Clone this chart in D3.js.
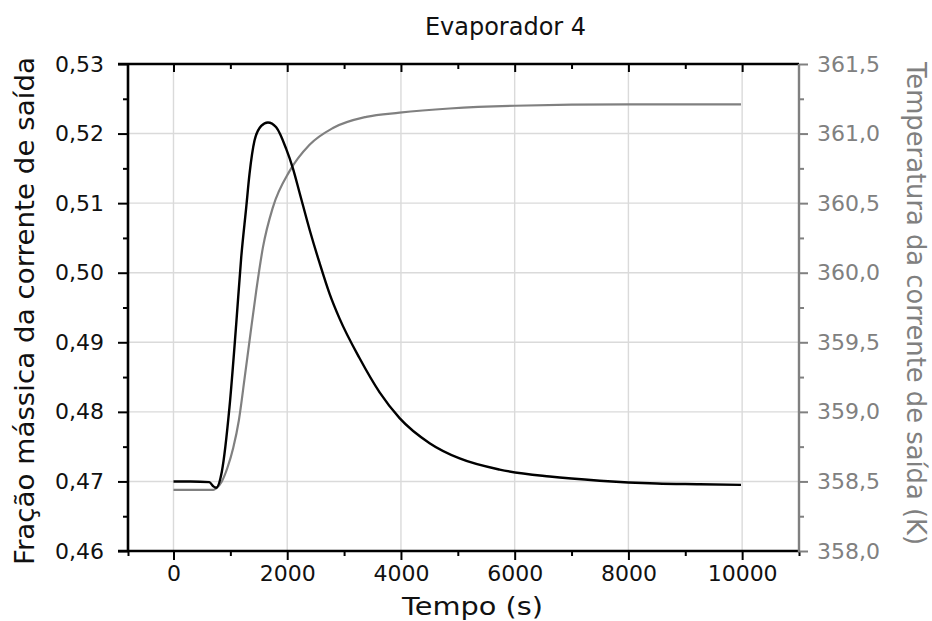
<!DOCTYPE html>
<html><head><meta charset="utf-8">
<script src="https://cdn.jsdelivr.net/npm/d3@7"></script>
<style>body{margin:0;background:#fff}svg{display:block}</style>
</head><body>
<script>
const title = "Evaporador 4";
const xLabel = "Tempo (s)";
const yLeftLabel = "Fração mássica da corrente de saída";
const yRightLabel = "Temperatura da corrente de saída (K)";

const fracTime = [0, 300, 630, 700, 750, 850, 985, 1103, 1191, 1279, 1337, 1425, 1543, 1660, 1806, 1982, 2100, 2217, 2400, 2569, 2744, 2921, 3273, 3625, 3976, 4504, 5032, 5736, 6616, 7496, 8500, 9256, 9980];
const fracVals = [0.4700, 0.4700, 0.4699, 0.4693, 0.4691, 0.4714, 0.4807, 0.4926, 0.5022, 0.5094, 0.5142, 0.5190, 0.5211, 0.5216, 0.5209, 0.5178, 0.5150, 0.5115, 0.5060, 0.5014, 0.4970, 0.4934, 0.4877, 0.4828, 0.4791, 0.4755, 0.4733, 0.4717, 0.4707, 0.4701, 0.4697, 0.4696, 0.4695];

const tempTime = [0, 300, 700, 750, 850, 950, 1050, 1150, 1250, 1337, 1455, 1572, 1748, 2041, 2393, 2804, 3390, 3977, 4855, 6000, 8000, 9980];
const tempVals = [358.44, 358.44, 358.44, 358.45, 358.50, 358.60, 358.74, 358.94, 359.24, 359.51, 359.87, 360.18, 360.47, 360.73, 360.92, 361.04, 361.12, 361.15, 361.18, 361.20, 361.21, 361.21];

const xTicks = [0, 2000, 4000, 6000, 8000, 10000];
const xMinor = [-800, 1000, 3000, 5000, 7000, 9000, 11000];
const yLeftTicks = [0.46, 0.47, 0.48, 0.49, 0.50, 0.51, 0.52, 0.53];
const yLeftMinor = [0.465, 0.475, 0.485, 0.495, 0.505, 0.515, 0.525];
const yRightTicks = [358.0, 358.5, 359.0, 359.5, 360.0, 360.5, 361.0, 361.5];
const yRightMinor = [358.25, 358.75, 359.25, 359.75, 360.25, 360.75, 361.25];

const W = 932, H = 621;
const L = 128, R = 799, T = 64, B = 551;
const FONT = "'DejaVu Sans', Verdana, sans-serif";
const svg = d3.select("body").append("svg").attr("width", W).attr("height", H)
  .style("font-family", FONT);

const x = d3.scaleLinear().domain([-800, 11000]).range([L, R]);
const yL = d3.scaleLinear().domain([0.46, 0.53]).range([B, T]);
const yR = d3.scaleLinear().domain([358.0, 361.5]).range([B, T]);
const fmt = d => d3.format(".2f")(d).replace(".", ",");
const fmtR = d => d3.format(".1f")(d).replace(".", ",");

// grid
const grid = svg.append("g").attr("stroke", "#dadada").attr("stroke-width", 1.4);
xTicks.forEach(t => grid.append("line").attr("x1", x(t)).attr("x2", x(t)).attr("y1", T).attr("y2", B));
yLeftTicks.filter(v => v > 0.46 && v < 0.53).forEach(v => grid.append("line").attr("x1", L).attr("x2", R).attr("y1", yL(v)).attr("y2", yL(v)));

// lines
const lineF = d3.line().x(d => x(d[0])).y(d => yL(d[1])).curve(d3.curveMonotoneX);
const lineT = d3.line().x(d => x(d[0])).y(d => yR(d[1])).curve(d3.curveMonotoneX);
svg.append("path").datum(tempTime.map((t, i) => [t, tempVals[i]])).attr("d", lineT)
  .attr("fill", "none").attr("stroke", "#808080").attr("stroke-width", 2.2);
svg.append("path").datum(fracTime.map((t, i) => [t, fracVals[i]])).attr("d", lineF)
  .attr("fill", "none").attr("stroke", "#000").attr("stroke-width", 2.4);

// bottom axis
const xAxis = svg.append("g").attr("transform", `translate(0,${B})`)
  .call(d3.axisBottom(x).tickValues(xTicks).tickSize(9).tickPadding(5).tickFormat(d3.format("d")));
xAxis.append("g").call(d3.axisBottom(x).tickValues(xMinor).tickSize(5).tickFormat(""));
xAxis.selectAll(".domain").remove();
xAxis.append("line").attr("x1", L - 10).attr("x2", R).attr("stroke", "#000").attr("stroke-width", 2.4);
xAxis.selectAll(".tick line").attr("stroke", "#000").attr("stroke-width", 2);
xAxis.selectAll("text").attr("font-size", 22).attr("fill", "#111").attr("font-family", FONT);

// top axis (ticks inward)
const xTop = svg.append("g").attr("transform", `translate(0,${T})`)
  .call(d3.axisBottom(x).tickValues(xTicks).tickSize(8).tickFormat(""));
xTop.append("g").call(d3.axisBottom(x).tickValues(xMinor.filter(v => v > -800 && v < 11000)).tickSize(5).tickFormat(""));
xTop.selectAll(".domain").remove();
xTop.append("line").attr("x1", L - 10).attr("x2", R).attr("stroke", "#000").attr("stroke-width", 2.4);
xTop.selectAll(".tick line").attr("stroke", "#000").attr("stroke-width", 2);

// left axis
const yAxisL = svg.append("g").attr("transform", `translate(${L},0)`)
  .call(d3.axisLeft(yL).tickValues(yLeftTicks).tickSize(10).tickPadding(14).tickFormat(fmt));
yAxisL.append("g").call(d3.axisLeft(yL).tickValues(yLeftMinor).tickSize(5).tickFormat(""));
yAxisL.selectAll(".domain").remove();
yAxisL.append("line").attr("y1", T - 1).attr("y2", B + 1).attr("stroke", "#000").attr("stroke-width", 2.6);
yAxisL.selectAll(".tick line").attr("stroke", "#000").attr("stroke-width", 2);
yAxisL.selectAll("text").attr("font-size", 22).attr("fill", "#111").attr("font-family", FONT);

// right axis
const gray = "#808080";
const yAxisR = svg.append("g").attr("transform", `translate(${R},0)`)
  .call(d3.axisRight(yR).tickValues(yRightTicks).tickSize(9).tickPadding(9).tickFormat(fmtR));
yAxisR.append("g").call(d3.axisRight(yR).tickValues(yRightMinor).tickSize(5).tickFormat(""));
yAxisR.selectAll(".domain").remove();
yAxisR.append("line").attr("y1", T).attr("y2", B + 1).attr("stroke", gray).attr("stroke-width", 2.4);
yAxisR.selectAll(".tick line").attr("stroke", gray).attr("stroke-width", 2);
yAxisR.selectAll("text").attr("font-size", 22).attr("fill", gray).attr("font-family", FONT);

// titles
svg.append("text").attr("x", 505.5).attr("y", 35).attr("text-anchor", "middle")
  .attr("font-size", 24).attr("fill", "#111").text(title);
svg.append("text").attr("x", 472.5).attr("y", 615).attr("text-anchor", "middle")
  .attr("font-size", 25).attr("fill", "#111")
  .attr("textLength", 141).attr("lengthAdjust", "spacingAndGlyphs").text(xLabel);
svg.append("text").attr("transform", `translate(34,311) rotate(-90)`).attr("text-anchor", "middle")
  .attr("font-size", 27).attr("fill", "#111")
  .attr("textLength", 508).attr("lengthAdjust", "spacingAndGlyphs").text(yLeftLabel);
svg.append("text").attr("transform", `translate(907,303.5) rotate(90)`).attr("text-anchor", "middle")
  .attr("font-size", 26).attr("fill", gray)
  .attr("textLength", 483).attr("lengthAdjust", "spacingAndGlyphs").text(yRightLabel);
</script>
</body></html>
